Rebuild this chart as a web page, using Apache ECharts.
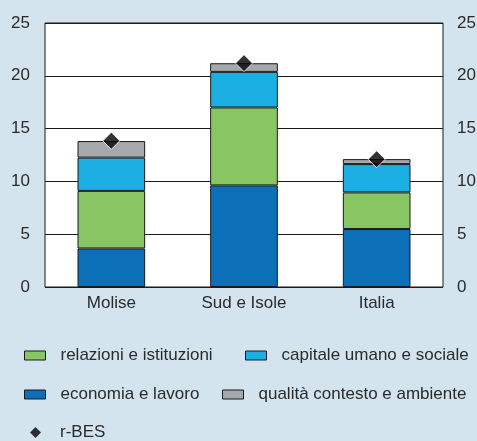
<!DOCTYPE html>
<html>
<head>
<meta charset="utf-8">
<script src="https://cdn.jsdelivr.net/npm/echarts@6/dist/echarts.min.js"></script>
<style>
  html, body { margin: 0; padding: 0; background: #d3e4ee; }
  #chart { width: 477px; height: 441px; }
</style>
</head>
<body>
<div id="chart"></div>
<script>
// categories and values
var categories = ['Molise', 'Sud e Isole', 'Italia'];
var economia = [3.65, 9.62, 5.49];
var relazioni = [5.45, 7.38, 3.47];
var capitale = [3.15, 3.37, 2.68];
var qualita = [1.57, 0.82, 0.47];
var rBes = [13.84, 21.2, 12.1];
var yTicks = [0, 5, 10, 15, 20, 25];

var chart = echarts.init(document.getElementById('chart'));

var txt = { color: '#2a2a2a', fontSize: 17, fontFamily: 'Liberation Sans, Arial, sans-serif' };

function barSeries(name, data, color) {
    return {
        name: name,
        type: 'bar',
        stack: 'bes',
        barWidth: '51%',
        data: data,
        itemStyle: { color: color, borderColor: '#1a1a1a', borderWidth: 1 }
    };
}

function legendAt(name, left, top, icon) {
    return {
        data: [name],
        left: left,
        top: top,
        icon: icon || 'rect',
        itemWidth: icon ? 11 : 21,
        itemHeight: icon ? 11 : 9,
        padding: 0,
        textStyle: Object.assign({ padding: [0, 0, 0, icon ? 14 : 10] }, txt),
        selectedMode: false,
        itemStyle: icon ? { borderWidth: 0 } : { borderColor: '#1a1a1a', borderWidth: 1 }
    };
}

var option = {
    backgroundColor: '#d3e4ee',
    animation: false,
    grid: {
        left: 45, right: 34, top: 23, bottom: 154,
        outerBoundsMode: 'none',
        show: true, backgroundColor: '#fff', borderColor: '#1a1a1a', borderWidth: 1
    },
    legend: [
        legendAt('relazioni e istituzioni', 24, 347),
        legendAt('capitale umano e sociale', 245, 347),
        legendAt('economia e lavoro', 24, 386),
        legendAt('qualità contesto e ambiente', 222, 386),
        legendAt('r-BES', 30, 424, 'diamond')
    ],
    xAxis: {
        type: 'category',
        data: categories,
        axisLine: { show: false },
        axisTick: { show: false },
        axisLabel: Object.assign({ margin: 8 }, txt)
    },
    yAxis: [
        {
            type: 'value', min: yTicks[0], max: yTicks[yTicks.length - 1], interval: 5,
            axisLine: { show: false }, axisTick: { show: false },
            axisLabel: Object.assign({ margin: 15 }, txt),
            splitLine: { lineStyle: { color: '#1a1a1a', width: 1 } }
        },
        {
            type: 'value', min: yTicks[0], max: yTicks[yTicks.length - 1], interval: 5,
            position: 'right',
            axisLine: { show: false }, axisTick: { show: false },
            axisLabel: Object.assign({ margin: 14 }, txt),
            splitLine: { show: false }
        }
    ],
    series: [
        barSeries('economia e lavoro', economia, '#0b70b8'),
        barSeries('relazioni e istituzioni', relazioni, '#88c664'),
        barSeries('capitale umano e sociale', capitale, '#1bafe3'),
        barSeries('qualità contesto e ambiente', qualita, '#a6a9ab'),
        {
            name: 'r-BES',
            type: 'scatter',
            symbol: 'diamond',
            symbolSize: 17,
            data: rBes,
            z: 5,
            itemStyle: { color: '#000', borderColor: '#fff', borderWidth: 1 }
        }
    ]
};
chart.setOption(option);
</script>
</body>
</html>
